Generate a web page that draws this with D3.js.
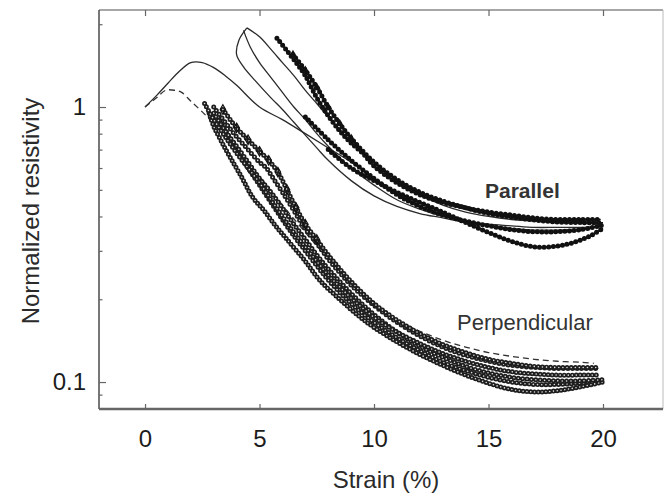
<!DOCTYPE html>
<html><head><meta charset="utf-8">
<script src="https://cdn.jsdelivr.net/npm/d3@7"></script>
<style>body{margin:0;background:#fff}svg{display:block}text{font-family:"Liberation Sans",Arial,sans-serif}</style>
</head><body><svg id="c" width="664" height="493"></svg>
<script>
// ---------- data (strain %, normalized resistivity) ----------
const xTickValues = [0, 5, 10, 15, 20];
const yTickValues = [0.1, 1];
const yTickLabels = ["0.1", "1"];
const yMinorTicks = [0.09, 0.2, 0.3, 0.4, 0.5, 0.6, 0.7, 0.8, 0.9, 2];

// Parallel: first loading (thin solid)
const parFirst = [[0,1.0],[0.5,1.1],[1,1.22],[1.5,1.35],[2,1.45],[2.5,1.45],[3,1.39],[3.5,1.3],[4,1.2],[5,1.0],[6,0.9],[7,0.8],[8,0.71],[9,0.63],[10,0.55],[11,0.485],[12,0.435],[13,0.405],[14,0.385],[15,0.372],[16,0.362],[17,0.357],[18,0.357],[19,0.36],[20,0.368]];
// Parallel: thin solid cycle lines
const parLoop1 = [[4.45,1.94],[5,1.8],[5.5,1.62],[6,1.45],[6.5,1.3],[7,1.15],[7.5,1.03],[8,0.92],[8.5,0.83],[9,0.75],[10,0.63],[11,0.54],[12,0.48],[13,0.44],[14,0.415],[15,0.4],[16,0.39],[17,0.385],[18,0.38],[19,0.38],[20,0.375]];
const parLoop2 = [[4.3,1.9],[4.6,1.65],[5,1.45],[5.5,1.28],[6,1.13],[6.5,1.0],[7,0.9],[7.5,0.8],[8,0.72],[9,0.6],[10,0.52],[11,0.46],[12,0.425],[13,0.4],[14,0.385],[15,0.375],[16,0.37],[17,0.365],[18,0.365],[19,0.365],[20,0.37]];
const parLoop3 = [[4.45,1.94],[4.1,1.75],[4.0,1.55],[4.3,1.4],[4.8,1.25],[5.5,1.08],[6,0.98],[6.5,0.88],[7,0.79],[7.5,0.71],[8,0.64],[9,0.54],[10,0.475],[11,0.435],[12,0.41],[13,0.395],[14,0.38]];
// Parallel: marker cycles
const parMark1 = [[5.76,1.78],[6.2,1.6],[6.6,1.45],[7,1.3],[7.5,1.08],[8,0.93],[8.5,0.82],[9,0.74],[9.5,0.68],[10,0.61],[11,0.53],[12,0.48],[13,0.45],[14,0.43],[15,0.415],[16,0.405],[17,0.395],[18,0.39],[19,0.39],[19.9,0.39]];
const parMark2 = [[6.46,1.55],[7,1.36],[7.5,1.18],[8,1.0],[8.5,0.87],[9,0.77],[10,0.63],[11,0.545],[12,0.49],[13,0.455],[14,0.43],[15,0.41],[16,0.398],[17,0.388],[18,0.382],[19,0.38],[20,0.38]];
const parMark3 = [[8,0.7],[9,0.6],[10,0.54],[11,0.49],[12,0.45],[13,0.415],[14,0.38],[15,0.35],[16,0.325],[17,0.31],[18,0.312],[18.5,0.318],[19,0.328],[19.5,0.342],[20,0.362]];
const parMark4 = [[7,0.92],[8,0.76],[9,0.64],[10,0.55],[11,0.48],[12,0.435],[13,0.405],[14,0.385],[15,0.37],[16,0.358],[17,0.352],[18,0.352],[19,0.358],[20,0.372]];

// Perpendicular: first loading (dashed)
const perpFirst = [[0,1.0],[0.5,1.08],[0.9,1.15],[1.3,1.15],[1.6,1.13],[2,1.05],[2.5,0.96],[3,0.87],[3.5,0.78],[4,0.7],[5,0.56],[6,0.44],[7,0.35],[8,0.28],[9,0.225],[10,0.19],[11,0.168],[12,0.153],[13,0.142],[14,0.134],[15,0.128],[16,0.124],[17,0.121],[18,0.119],[19,0.118],[19.6,0.117]];
// Perpendicular: marker cycles
const perpA = [[2.6,1.03],[3,0.9],[3.5,0.78],[4,0.68],[4.5,0.6],[5,0.53],[5.5,0.46],[6,0.4],[6.5,0.35],[7,0.31],[7.5,0.275],[8,0.245],[8.5,0.222],[9,0.202],[10,0.172],[11,0.152],[12,0.138],[13,0.127],[14,0.119],[15,0.113],[16,0.109],[17,0.107],[18,0.106],[19,0.106],[19.8,0.106]];
const perpB = [[3,1.0],[3.5,0.88],[4,0.78],[4.5,0.7],[5,0.63],[5.3,0.6],[5.6,0.55],[6,0.49],[6.5,0.42],[7,0.36],[7.5,0.32],[8,0.28],[8.5,0.25],[9,0.225],[10,0.19],[11,0.165],[12,0.147],[13,0.134],[14,0.125],[15,0.119],[16,0.115],[17,0.113],[18,0.112],[19,0.112],[19.8,0.112]];
const perpC = [[2.8,0.95],[3,0.85],[3.3,0.76],[3.7,0.66],[4.2,0.56],[4.7,0.47],[5.2,0.42],[5.7,0.37],[6.2,0.33],[7,0.275],[7.6,0.236],[8.5,0.2],[9.4,0.172],[10,0.158],[11,0.14],[12,0.126],[13,0.115],[14,0.106],[15,0.099],[16,0.094],[17,0.092],[18,0.093],[19,0.096],[20,0.1]];
const perpD = [[3,0.95],[3.5,0.82],[4,0.72],[4.5,0.63],[5,0.55],[5.5,0.49],[6,0.43],[6.5,0.375],[7,0.33],[7.5,0.29],[8,0.258],[9,0.21],[10,0.176],[11,0.152],[12,0.135],[13,0.123],[14,0.114],[15,0.108],[16,0.104],[17,0.102],[18,0.101],[19,0.101],[20,0.102]];
const perpE = [[3.2,0.92],[3.6,0.8],[4,0.7],[4.5,0.6],[5,0.52],[5.5,0.45],[6,0.39],[6.5,0.34],[7,0.3],[7.5,0.265],[8,0.235],[9,0.193],[10,0.165],[11,0.145],[12,0.13],[13,0.118],[14,0.11],[15,0.104],[16,0.1],[17,0.098],[18,0.098],[19,0.099],[19.8,0.1]];
const perpF = [[3.4,0.98],[4,0.84],[4.5,0.76],[5,0.69],[5.4,0.64],[5.8,0.58],[6.2,0.5],[6.6,0.43],[7,0.375],[7.5,0.33],[8,0.29],[9,0.232],[10,0.193],[11,0.168],[12,0.15],[13,0.137],[14,0.128],[15,0.121],[16,0.117],[17,0.114],[18,0.113],[19,0.113],[19.7,0.113]];

// ---------- chart ----------
const svg = d3.select("#c");
const L = 99, R = 663, T = 10, B = 409;
const x = d3.scaleLinear().domain([-2.01, 22.62]).range([L, R]);
const y = d3.scaleLog().domain([0.0798, 2.253]).range([B, T]);

const line = d3.line().x(d => x(d[0])).y(d => y(d[1])).curve(d3.curveCatmullRom.alpha(0.5));
const plot = svg.append("g");

function thin(data, opts = {}) {
  plot.append("path").attr("d", line(data)).attr("fill", "none")
    .attr("stroke", opts.color || "#2a2a2a").attr("stroke-width", opts.w || 1.3)
    .attr("stroke-dasharray", opts.dash || null);
}
function filledDots(data) {
  thin(data, {w: 1.4, color: "#111"});
  plot.append("path").attr("d", line(data)).attr("fill", "none")
    .attr("stroke", "#111").attr("stroke-width", 5).attr("stroke-linecap", "round")
    .attr("stroke-dasharray", "0 4.6");
}
function openDots(data, gap) {
  thin(data, {w: 1.1, color: "#222"});
  const p = line(data);
  plot.append("path").attr("d", p).attr("fill", "none")
    .attr("stroke", "#1e1e1e").attr("stroke-width", 5).attr("stroke-linecap", "round")
    .attr("stroke-dasharray", "0 " + gap);
  plot.append("path").attr("d", p).attr("fill", "none")
    .attr("stroke", "#fff").attr("stroke-width", 1.6).attr("stroke-linecap", "round")
    .attr("stroke-dasharray", "0 " + gap).attr("opacity", 0.85);
}

// Parallel
thin(parFirst);
thin(parLoop1); thin(parLoop2); thin(parLoop3);
filledDots(parMark4); filledDots(parMark3); filledDots(parMark2); filledDots(parMark1);
plot.selectAll(".tri").data(parMark2.slice(0, 6)).enter().append("path")
  .attr("d", d3.symbol().type(d3.symbolTriangle).size(30))
  .attr("transform", d => `translate(${x(d[0])},${y(d[1])})`).attr("fill", "#111");

// Perpendicular
thin(perpFirst, {color: "#333", w: 1.3, dash: "6 4"});
openDots(perpE, 4.2); openDots(perpC, 3.8); openDots(perpD, 4.4); openDots(perpA, 4.0); openDots(perpB, 4.6); openDots(perpF, 4.1);
plot.selectAll(".dia").data(perpF.slice(0, 10)).enter().append("path")
  .attr("d", d3.symbol().type(d3.symbolDiamond).size(26))
  .attr("transform", d => `translate(${x(d[0])},${y(d[1])})`).attr("fill", "none").attr("stroke", "#111").attr("stroke-width", 1.2);

// ---------- frame ----------
svg.append("line").attr("x1", L).attr("x2", R).attr("y1", T).attr("y2", T).attr("stroke", "#8a8a8a").attr("stroke-width", 1.5);
svg.append("line").attr("x1", R).attr("x2", R).attr("y1", T).attr("y2", B).attr("stroke", "#bbb").attr("stroke-width", 1);
svg.append("line").attr("x1", L).attr("x2", L).attr("y1", T).attr("y2", B).attr("stroke", "#555").attr("stroke-width", 1.6);
svg.append("line").attr("x1", L).attr("x2", R).attr("y1", B).attr("y2", B).attr("stroke", "#666").attr("stroke-width", 2.4);

// ---------- axes ----------
const xAxis = svg.append("g").attr("transform", `translate(0,${B})`)
  .call(d3.axisBottom(x).tickValues(xTickValues).tickSize(-5).tickPadding(21).tickFormat(d3.format("d")));
const xTop = svg.append("g").attr("transform", `translate(0,${T})`)
  .call(d3.axisTop(x).tickValues(xTickValues).tickSize(-6).tickFormat(""));
const yAxis = svg.append("g").attr("transform", `translate(${L},0)`)
  .call(d3.axisLeft(y).tickValues(yTickValues).tickSize(-7).tickPadding(13).tickFormat((d, i) => yTickLabels[i]));
const yMinor = svg.append("g").attr("transform", `translate(${L},0)`)
  .call(d3.axisLeft(y).tickValues(yMinorTicks).tickSize(-3.5).tickFormat(""));
[xAxis, xTop, yAxis, yMinor].forEach(g => {
  g.select(".domain").remove();
  g.selectAll(".tick line").attr("stroke", "#666").attr("stroke-width", 1.2);
  g.selectAll("text").attr("font-size", 24).attr("fill", "#1c1c1c").attr("font-family", '"Liberation Sans", Arial, sans-serif');
});

// ---------- titles & labels ----------
svg.append("text").attr("x", 386).attr("y", 488).attr("text-anchor", "middle")
  .attr("font-size", 24).attr("fill", "#2a2a2a").text("Strain (%)");
svg.append("text").attr("transform", "translate(39,211) rotate(-90)").attr("text-anchor", "middle")
  .attr("font-size", 24).attr("fill", "#2a2a2a").text("Normalized resistivity");
svg.append("text").attr("x", 485).attr("y", 198).attr("font-size", 21).attr("font-weight", "bold")
  .attr("fill", "#333").text("Parallel");
svg.append("text").attr("x", 457).attr("y", 330).attr("font-size", 22)
  .attr("fill", "#333").text("Perpendicular");
</script></body></html>
